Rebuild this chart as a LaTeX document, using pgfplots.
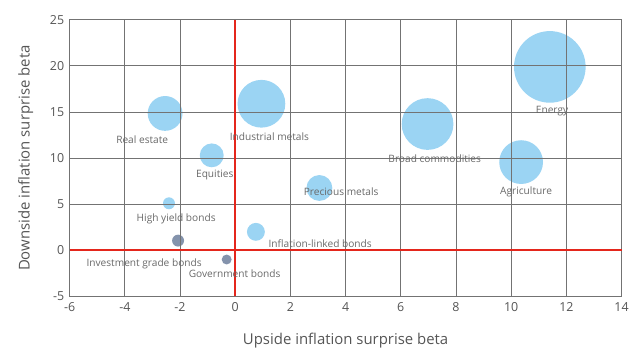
\documentclass[border=0pt]{standalone}
\usepackage{pgfplots}
\pgfplotsset{compat=1.18}
\usepackage{fontspec}
\setmainfont{Open Sans}
\definecolor{bubble}{RGB}{146,208,242}
\definecolor{darkbub}{RGB}{122,138,165}
\definecolor{gridc}{RGB}{115,115,115}
\definecolor{txt}{RGB}{85,85,85}
\definecolor{lbl}{RGB}{105,105,105}
\definecolor{redl}{RGB}{228,38,28}
\pgfdeclarelayer{fg}
\pgfsetlayers{main,fg}
\pgfplotsset{
  bub/.style 2 args={only marks, mark=*, mark size=#2pt,
    mark options={draw opacity=0, fill=#1, fill opacity=0.92}},
}
\begin{document}
\begin{tikzpicture}
\begin{axis}[
  scale only axis,
  width=555pt, height=278pt,
  xmin=-6, xmax=14, ymin=-5, ymax=25,
  xtick={-6,-4,...,14}, ytick={-5,0,...,25},
  axis line style={draw=gridc, line width=1pt},
  major tick length=0pt,
  tick label style={font=\fontsize{12.5}{14}\selectfont, text=txt},
  /pgf/number format/assume math mode=true,
  xticklabel style={yshift=-3pt},
  yticklabel style={xshift=-2pt},
  xlabel={Upside inflation surprise beta},
  ylabel={Downside inflation surprise beta},
  label style={font=\fontsize{15}{17}\selectfont, text=txt},
  xlabel style={yshift=-14pt},
  ylabel style={yshift=10pt},
  clip=false,
]
\addplot[bub={bubble}{36}] coordinates {(11.4,19.9)};
\addplot[bub={bubble}{26}] coordinates {(6.97,13.7)};
\addplot[bub={bubble}{22}] coordinates {(10.36,9.57)};
\addplot[bub={bubble}{24}] coordinates {(0.95,15.9)};
\addplot[bub={bubble}{17.5}] coordinates {(-2.54,14.85)};
\addplot[bub={bubble}{12}] coordinates {(-0.85,10.3)};
\addplot[bub={bubble}{13}] coordinates {(3.05,6.76)};
\addplot[bub={bubble}{6}] coordinates {(-2.4,5.1)};
\addplot[bub={bubble}{9}] coordinates {(0.75,2.0)};
\addplot[bub={darkbub}{6}] coordinates {(-2.07,1.05)};
\addplot[bub={darkbub}{5}] coordinates {(-0.31,-1.0)};
\coordinate (SW) at (rel axis cs:0,0);
\coordinate (v0) at (axis cs:0,-5);
\coordinate (v1) at (axis cs:0,25);
\coordinate (h0) at (axis cs:-6,0);
\coordinate (h1) at (axis cs:14,0);
\coordinate (L1) at (axis cs:11.48,15.07);
\coordinate (L2) at (axis cs:7.23,9.9);
\coordinate (L3) at (axis cs:10.54,6.34);
\coordinate (L4) at (axis cs:1.24,12.37);
\coordinate (L5) at (axis cs:-3.37,12.05);
\coordinate (L6) at (axis cs:-0.74,8.17);
\coordinate (L7) at (axis cs:3.84,6.34);
\coordinate (L8) at (axis cs:-2.14,3.42);
\coordinate (L9) at (axis cs:3.08,0.72);
\coordinate (L10) at (axis cs:-3.30,-1.43);
\coordinate (L11) at (axis cs:-0.02,-2.51);
\path (rel axis cs:0,0) ++(-70pt,-51pt) coordinate (bl);
\path (rel axis cs:1,1) ++(7pt,20pt) coordinate (tr);
\end{axis}
\begin{pgfonlayer}{fg}
\begin{scope}[shift={(SW)}]
\foreach \i in {1,...,9} \draw[gridc, line width=1pt] (\i*55.5pt,0pt) -- (\i*55.5pt,278pt);
\foreach \j in {1,...,5} \draw[gridc, line width=1pt] (0pt,\j*46.333pt) -- (555pt,\j*46.333pt);
\end{scope}
\draw[redl, line width=1.8pt] (v0) -- (v1);
\draw[redl, line width=1.8pt] (h0) -- (h1);
\begin{scope}[every node/.style={font=\fontsize{10.2}{12}\selectfont, text=lbl, inner sep=0pt}]
\node at (L1) {Energy};
\node at (L2) {Broad commodities};
\node at (L3) {Agriculture};
\node at (L4) {Industrial metals};
\node at (L5) {Real estate};
\node at (L6) {Equities};
\node at (L7) {Precious metals};
\node at (L8) {High yield bonds};
\node at (L9) {Inflation-linked bonds};
\node at (L10) {Investment grade bonds};
\node at (L11) {Government bonds};
\end{scope}
\end{pgfonlayer}
\path (bl) rectangle (tr);
\end{tikzpicture}
\end{document}
